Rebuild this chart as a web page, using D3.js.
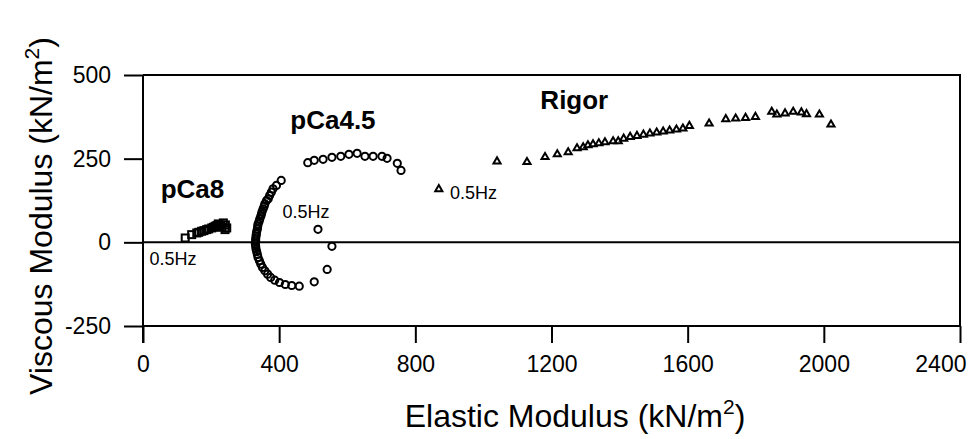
<!DOCTYPE html>
<html lang="en">
<head>
    <meta charset="UTF-8"/>
    <title>Viscous vs Elastic Modulus</title>
    <script src="https://d3js.org/d3.v7.min.js" charset="utf-8"></script>
    <style type="text/css">
        body { margin: 0; background: #fff; }
        text { font-family: "Liberation Sans", Arial, sans-serif; fill: #000; }
        .axis path, .axis line { stroke: #000; stroke-width: 2px; }
        .axis text { font-size: 23px; }
        .frame { stroke: #000; stroke-width: 2px; fill: none; }
        .mark { fill: none; stroke: #000; stroke-width: 2px; }
    </style>
</head>
<body>
<div id="chart"></div>
<script type="text/javascript">

    // pCa8 (squares)
    var pca8X = [124, 143, 158, 164, 172, 179, 187, 193, 202, 207, 212, 217, 221, 228, 236, 242, 246, 241, 232];
    var pca8Y = [13, 23, 28, 30, 33, 35, 38, 40, 43, 45, 48, 50, 55, 52, 58, 52, 43, 38, 45];

    // pCa4.5 (circles)
    var pca45X = [514, 555, 541, 503, 459, 437, 418, 401, 387, 375, 366, 358, 351, 346, 342, 338, 336, 334, 332, 331,
        330, 331, 331, 332, 333, 334, 336, 337, 338, 341, 343, 346, 348, 350, 353, 356, 358, 363, 368, 372,
        377, 382, 392, 406, 484, 503, 529, 555, 581, 605, 629, 652, 676, 702, 717, 747, 758];
    var pca45Y = [39, -12, -81, -118, -131, -129, -126, -120, -113, -105, -95, -85, -75, -65, -55, -45, -36, -28, -20, -12,
        -4, 3, 10, 18, 25, 32, 40, 48, 55, 62, 70, 78, 85, 92, 100, 108, 115, 125, 130, 140,
        150, 160, 170, 185, 238, 245, 248, 254, 257, 263, 266, 257, 257, 257, 251, 236, 215];

    // Rigor (triangles)
    var rigorX = [869, 1040, 1128, 1181, 1217, 1249, 1275, 1293, 1307, 1322, 1339, 1357, 1381, 1396, 1412, 1431,
        1451, 1470, 1489, 1509, 1528, 1547, 1567, 1586, 1605, 1663, 1712, 1741, 1770, 1799, 1847, 1862,
        1886, 1910, 1934, 1949, 1987, 2021];
    var rigorY = [159, 242, 240, 255, 263, 269, 281, 284, 290, 293, 296, 299, 302, 302, 310, 315,
        318, 322, 325, 328, 331, 334, 337, 340, 348, 355, 368, 370, 372, 375, 390, 382,
        385, 390, 388, 383, 382, 352];

    var xTicks = [0, 400, 800, 1200, 1600, 2000, 2400];
    var yTicks = [-250, 0, 250, 500];

    // annotations: [text, x, y] in data units
    var groupLabels = [["pCa8", 52, 132], ["pCa4.5", 558, 338], ["Rigor", 1267, 398]];
    var freqLabels = [["0.5Hz", 19, -69], ["0.5Hz", 410, 72], ["0.5Hz", 902, 129]];

    var width = 974, height = 439;
    var pLeft = 143, pRight = 960, pTop = 75, pBottom = 326;

    var svg = d3.select("#chart")
        .append("svg")
        .attr("width", width)
        .attr("height", height);

    var x = d3.scaleLinear().domain([0, 2400]).range([pLeft, pRight]);
    var y = d3.scaleLinear().domain([-250, 500]).range([pBottom, pTop]);

    // frame: top and right
    svg.append("path")
        .attr("class", "frame")
        .attr("d", "M" + pLeft + "," + pTop + "H" + pRight + "V" + pBottom);

    // zero line
    svg.append("line")
        .attr("class", "frame")
        .attr("x1", pLeft).attr("x2", pRight)
        .attr("y1", y(0)).attr("y2", y(0));

    var xAxis = svg.append("g")
        .attr("class", "axis")
        .attr("transform", "translate(0," + pBottom + ")")
        .call(d3.axisBottom(x).tickValues(xTicks).tickFormat(String).tickSize(17).tickSizeOuter(0).tickPadding(13));
    xAxis.select(".domain").attr("d", "M" + pLeft + ",0H" + pRight);
    // last label pulled in so it stays inside the picture
    xAxis.selectAll(".tick text").filter(function (d) { return d == 2400; })
        .attr("text-anchor", "end").attr("x", 6);

    svg.append("g")
        .attr("class", "axis")
        .attr("transform", "translate(" + pLeft + ",0)")
        .call(d3.axisLeft(y).tickValues(yTicks).tickFormat(String).tickSize(19).tickSizeOuter(0).tickPadding(13))
        .select(".domain").attr("d", "M0," + pTop + "V" + (pBottom + 17));

    svg.selectAll(".axis .tick text").attr("fill", "#000");

    // squares
    svg.selectAll("rect.mark")
        .data(pca8X)
        .enter()
        .append("rect")
        .attr("class", "mark")
        .attr("x", function (d) { return x(d) - 3.5; })
        .attr("y", function (d, i) { return y(pca8Y[i]) - 3.5; })
        .attr("width", 7)
        .attr("height", 7);

    // circles
    svg.selectAll("circle.mark")
        .data(pca45X)
        .enter()
        .append("circle")
        .attr("class", "mark")
        .attr("cx", function (d) { return x(d); })
        .attr("cy", function (d, i) { return y(pca45Y[i]); })
        .attr("r", 3.6);

    // triangles
    var tri = d3.symbol().type(d3.symbolTriangle).size(22);
    svg.selectAll("path.tri")
        .data(rigorX)
        .enter()
        .append("path")
        .attr("class", "mark tri")
        .attr("stroke-width", 1.6)
        .attr("d", tri)
        .attr("transform", function (d, i) { return "translate(" + x(d) + "," + y(rigorY[i]) + ")"; });

    svg.selectAll("text.group")
        .data(groupLabels)
        .enter()
        .append("text")
        .attr("class", "group")
        .attr("x", function (d) { return x(d[1]); })
        .attr("y", function (d) { return y(d[2]); })
        .attr("text-anchor", function (d, i) { return i == 0 ? "start" : "middle"; })
        .attr("font-size", "26px")
        .attr("font-weight", "bold")
        .text(function (d) { return d[0]; });

    svg.selectAll("text.freq")
        .data(freqLabels)
        .enter()
        .append("text")
        .attr("class", "freq")
        .attr("x", function (d) { return x(d[1]); })
        .attr("y", function (d) { return y(d[2]); })
        .attr("font-size", "18px")
        .text(function (d) { return d[0]; });

    // axis titles
    var xt = svg.append("text")
        .attr("x", 575)
        .attr("y", 427)
        .attr("text-anchor", "middle")
        .attr("font-size", "32px");
    xt.append("tspan").text("Elastic Modulus (kN/m");
    xt.append("tspan").attr("dy", -13).attr("font-size", "21px").text("2");
    xt.append("tspan").attr("dy", 13).text(")");

    var yt = svg.append("text")
        .attr("transform", "translate(52,216) rotate(-90)")
        .attr("text-anchor", "middle")
        .attr("font-size", "32px");
    yt.append("tspan").text("Viscous Modulus (kN/m");
    yt.append("tspan").attr("dy", -13).attr("font-size", "21px").text("2");
    yt.append("tspan").attr("dy", 13).text(")");

</script>
</body>
</html>
